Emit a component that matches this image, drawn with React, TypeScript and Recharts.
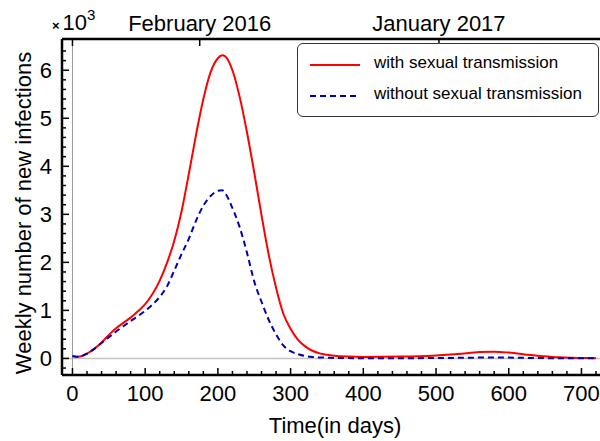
import { LineChart, Line, XAxis, YAxis, ReferenceLine } from 'recharts';

const FONT = '"Liberation Sans", Arial, sans-serif';

// days since start of simulation
const days = [
  0, 5, 10, 20, 30, 40, 50, 60, 70, 80, 90, 100, 110, 120, 130, 140, 150, 160, 170, 180,
  190, 200, 206, 210, 220, 230, 240, 250, 260, 270, 280, 290, 300, 310, 320, 330, 340, 350,
  360, 380, 400, 450, 500, 530, 560, 580, 600, 630, 660, 700, 720,
];

// weekly new infections, with sexual transmission
const withSexual = [
  50, 35, 40, 100, 200, 330, 490, 630, 740, 850, 980, 1130, 1340, 1620, 1990, 2450, 3060, 3840, 4660, 5400,
  5960, 6250, 6310, 6290, 6000, 5440, 4710, 3870, 2980, 2150, 1470, 930, 620, 390, 250, 160, 105, 75,
  55, 38, 32, 38, 62, 92, 132, 140, 122, 72, 32, 10, 5,
];

// weekly new infections, without sexual transmission
const withoutSexual = [
  50, 35, 40, 100, 200, 320, 440, 560, 670, 780, 880, 990, 1120, 1280, 1500, 1830, 2170, 2490, 2870, 3180,
  3380, 3490, 3500, 3440, 3130, 2730, 2200, 1600, 1180, 800, 500, 270, 150, 90, 50, 30, 20, 15,
  10, 7, 5, 5, 8, 12, 18, 20, 17, 10, 5, 2, 1,
];

const xTicks = Array.from({ length: 37 }, (_, i) => i * 20);
const yTicks = Array.from({ length: 34 }, (_, i) => -200 + i * 200);
const topTicks = [0, 175, 504];
const topLabels: Record<number, string> = { 0: '', 175: 'February 2016', 504: 'January 2017' };

const data = days.map((d, i) => ({ day: d, with: withSexual[i], without: withoutSexual[i] }));

const YTick = (props: any) => {
  const { x, y, payload } = props;
  const major = payload.value % 1000 === 0;
  return (
    <g>
      <line x1={x} x2={x + (major ? 7 : 4)} y1={y} y2={y} stroke="#000" strokeWidth={1.5} />
      {major && (
        <text x={x - 10} y={y} dy="0.36em" textAnchor="end" fontSize={22} fontFamily={FONT} fill="#000">
          {payload.value / 1000}
        </text>
      )}
    </g>
  );
};

const XTick = (props: any) => {
  const { x, y, payload } = props;
  const major = payload.value % 100 === 0;
  return (
    <g>
      <line x1={x} x2={x} y1={y} y2={y - (major ? 7 : 4)} stroke="#000" strokeWidth={1.5} />
      {major && (
        <text x={x} y={y + 26} textAnchor="middle" fontSize={22} fontFamily={FONT} fill="#000">
          {payload.value}
        </text>
      )}
    </g>
  );
};

const TopTick = (props: any) => {
  const { x, y, payload } = props;
  return (
    <g>
      <line x1={x} x2={x} y1={y} y2={y + 7} stroke="#000" strokeWidth={1.5} />
      <text x={x} y={y - 8} textAnchor="middle" fontSize={22} fontFamily={FONT} fill="#000">
        {topLabels[payload.value]}
      </text>
    </g>
  );
};

export default function App() {
  return (
    <div style={{ position: 'absolute', left: 0, top: 0, width: 600, height: 441, background: '#fff' }}>
      <LineChart width={600} height={441} data={data} margin={{ top: 0, right: 0, left: 0, bottom: 0 }}>
        <XAxis
          dataKey="day"
          type="number"
          domain={[-14.4, 725.5]}
          ticks={xTicks}
          interval={0}
          height={66}
          tickSize={0}
          tickMargin={0}
          tick={<XTick />}
          axisLine={{ stroke: '#000', strokeWidth: 2.5 }}
          allowDataOverflow
        />
        <XAxis
          xAxisId="top"
          orientation="top"
          dataKey="day"
          type="number"
          domain={[-14.4, 725.5]}
          ticks={topTicks}
          interval={0}
          height={39}
          tickSize={0}
          tickMargin={0}
          tick={<TopTick />}
          axisLine={{ stroke: '#000', strokeWidth: 2.5 }}
          allowDataOverflow
        />
        <YAxis
          type="number"
          domain={[-345, 6650]}
          ticks={yTicks}
          interval={0}
          width={62}
          tickSize={0}
          tickMargin={0}
          tick={<YTick />}
          axisLine={{ stroke: '#000', strokeWidth: 2.5 }}
          allowDataOverflow
        />
        <ReferenceLine y={0} stroke="#c4c4c4" strokeWidth={1.6} />
        <ReferenceLine x={0} stroke="#999" strokeWidth={1} />
        <Line
          type="monotone"
          dataKey="with"
          stroke="#ff0000"
          strokeWidth={2}
          dot={false}
          isAnimationActive={false}
        />
        <Line
          type="monotone"
          dataKey="without"
          stroke="#0000b4"
          strokeWidth={2}
          strokeDasharray="6 4"
          dot={false}
          isAnimationActive={false}
        />
        <text x={52} y={30} fontSize={22} fontFamily={FONT} fill="#000">
          <tspan fontSize={13} fontWeight="bold">×</tspan>
          <tspan dx={3}>10</tspan>
          <tspan dy={-10} fontSize={15}>3</tspan>
        </text>
        <text
          x={0}
          y={0}
          transform="translate(31 213) rotate(-90)"
          textAnchor="middle"
          fontSize={22}
          fontFamily={FONT}
          fill="#000"
        >
          Weekly number of new infections
        </text>
        <text x={335} y={433} textAnchor="middle" fontSize={22} fontFamily={FONT} fill="#000">
          Time(in days)
        </text>
      </LineChart>
      <div
        style={{
          position: 'absolute',
          left: 297,
          top: 43,
          width: 302,
          height: 74,
          border: '1px solid #333',
          borderRadius: 6,
          background: '#fff',
          fontFamily: FONT,
          fontSize: 17,
          color: '#000',
          boxSizing: 'border-box',
        }}
      >
        <svg width={64} height={74} style={{ position: 'absolute', left: 0, top: 0 }}>
          <line x1={12} x2={62} y1={21} y2={21} stroke="#ff0000" strokeWidth={2} />
          <line x1={12} x2={62} y1={52} y2={52} stroke="#0000b4" strokeWidth={2} strokeDasharray="6 4" />
        </svg>
        <div style={{ position: 'absolute', left: 76, top: 9, whiteSpace: 'nowrap' }}>with sexual transmission</div>
        <div style={{ position: 'absolute', left: 76, top: 40, whiteSpace: 'nowrap' }}>without sexual transmission</div>
      </div>
    </div>
  );
}
